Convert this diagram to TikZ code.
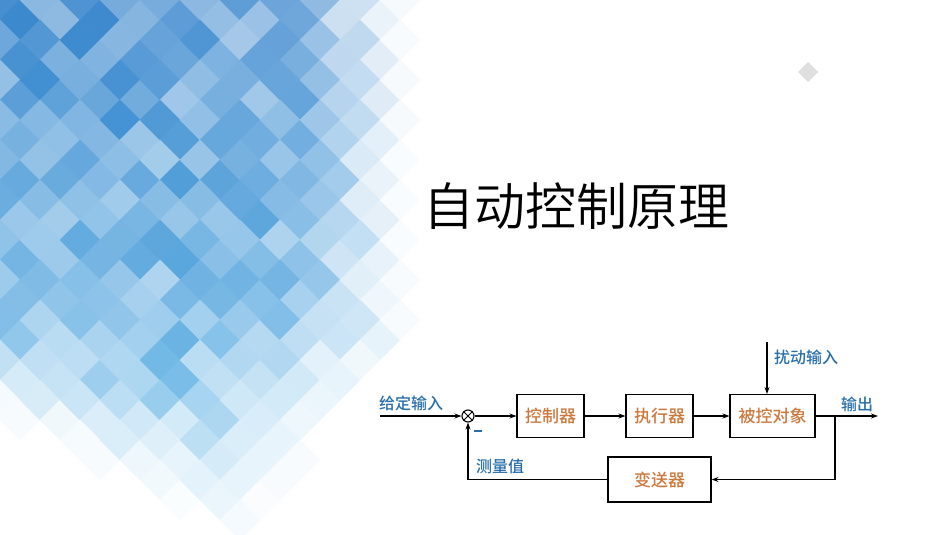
\documentclass[tikz,border=0pt]{standalone}
\usepackage{fontspec}
\newfontfamily\cjk{Noto Sans CJK SC Medium}
\newfontfamily\cjkl{Noto Sans CJK SC DemiLight}
\usetikzlibrary{arrows.meta}
\definecolor{tileblue}{RGB}{60,135,205}
\definecolor{tilecyan}{RGB}{95,180,230}
\definecolor{lblblue}{RGB}{40,110,170}
\definecolor{boxorange}{RGB}{205,120,60}
\tikzset{
  blk/.style={draw=black, line width=1.1pt, minimum height=43pt, font=\cjk\fontsize{17}{17}\selectfont, text=boxorange, inner sep=0pt},
  lbl/.style={font=\cjk\fontsize{16}{16}\selectfont, text=lblblue, inner sep=0pt},
  conn/.style={line width=1.1pt, -{Stealth[length=7pt,width=5pt]}},
  wire/.style={line width=1.1pt}
}
\begin{document}
\begin{tikzpicture}[x=1pt,y=-1pt]
\useasboundingbox (0,0) rectangle (950,535);
\fill[white] (0,0) rectangle (950,535);
% mosaic
\pgfmathsetseed{11}
\foreach \i in {0,...,10}{
 \foreach \j in {0,...,13}{
  \foreach \o in {0,1}{
   \pgfmathsetmacro{\cx}{40*\i+20*\o}
   \pgfmathsetmacro{\cy}{40*\j+20*\o}
   \pgfmathsetmacro{\uu}{max(max(\cx/385, \cy/(395+0.48*\cx)),(\cy+1.1*\cx)/760)}
   \pgfmathsetmacro{\rr}{rnd}
   \pgfmathsetmacro{\fa}{min(1,(1.06-\uu)*4)}
   \pgfmathsetmacro{\pp}{100*(1.0-0.45*\uu*\uu)*(0.55+0.6*\rr)*\fa}
   \pgfmathsetmacro{\pq}{min(100,\pp)}
   \pgfmathsetmacro{\cc}{min(100,max(0,100-\cy/4.5))}
   \ifdim\pq pt>3pt
     \colorlet{tmix}{tileblue!\cc!tilecyan}
     \fill[tmix!\pq!white] (\cx-20.4,\cy) -- (\cx,\cy-20.4) -- (\cx+20.4,\cy) -- (\cx,\cy+20.4) -- cycle;
   \fi
  }
 }
}
\fill[gray!25] (808,62) -- (818,72) -- (808,82) -- (798,72) -- cycle;
% title
\node[font=\cjkl\fontsize{51}{51}\selectfont, inner sep=0pt] (title) at (576,206) {自动控制原理};
% diagram
\node[blk, minimum width=67pt] (ctrl) at (550.5,416) {控制器};
\node[blk, minimum width=67pt] (act) at (659.5,416) {执行器};
\node[blk, minimum width=85pt] (plant) at (772.5,416) {被控对象};
\node[blk, minimum width=103pt, minimum height=45pt] (trans) at (659.5,479.5) {变送器};
\node[draw, circle, line width=1.1pt, minimum size=12pt, inner sep=0pt] (sum) at (468,416) {};
\draw[line width=1pt] (sum.north west) -- (sum.south east) (sum.north east) -- (sum.south west);
\coordinate (in) at (380,416);
\coordinate (out) at (878,416);
\coordinate (br) at (835,416);
\coordinate (dist) at (767,342);
\draw[conn] (in) -- (sum);
\draw[conn] (sum) -- (ctrl);
\draw[conn] (ctrl) -- (act);
\draw[conn] (act) -- (plant);
\draw[conn] (plant) -- (out);
\draw[conn] (dist) -- (dist |- plant.north);
\draw[conn] (br) |- (trans);
\draw[conn] (trans) -| (sum);
\node[lbl, anchor=west] (l1) at (379,403) {给定输入};
\node[lbl, anchor=west] (l2) at (774,357) {扰动输入};
\node[lbl, anchor=west] (l3) at (841,404) {输出};
\node[lbl, anchor=west] (l4) at (476,466) {测量值};
\coordinate (m1) at (474,431);
\coordinate (m2) at (482,431);
\draw[lblblue, line width=2pt] (m1) -- (m2);
\end{tikzpicture}
\end{document}
